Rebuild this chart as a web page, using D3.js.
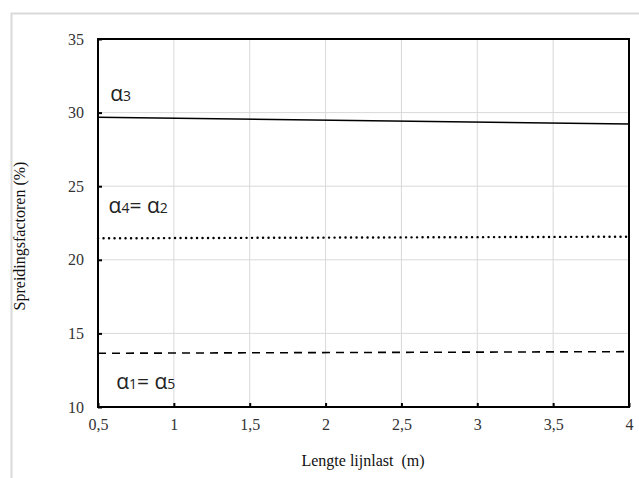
<!DOCTYPE html>
<html><head><meta charset="utf-8">
<script src="https://cdn.jsdelivr.net/npm/d3@7"></script>
<style>body{margin:0;background:#fff}svg{display:block}
.serif{font-family:"Liberation Serif","Times New Roman",serif}
.sans{font-family:"Open Sans","Noto Sans",sans-serif}</style>
</head><body>
<svg id="c" width="639" height="478"></svg>
<script>
const xValues = [0.5, 4];
const alpha3 = [29.68, 29.23];
const alpha4_2 = [21.46, 21.57];
const alpha1_5 = [13.65, 13.76];
const xTicks = [0.5, 1, 1.5, 2, 2.5, 3, 3.5, 4];
const xTickLabels = ["0,5", "1", "1,5", "2", "2,5", "3", "3,5", "4"];
const yTicks = [10, 15, 20, 25, 30, 35];
const labels = [
  {base: "α", sub: "3", rest: "", sub2: "", x: 0.58, y: 30.8},
  {base: "α", sub: "4", rest: "= α", sub2: "2", x: 0.57, y: 23.2},
  {base: "α", sub: "1", rest: "= α", sub2: "5", x: 0.62, y: 11.25}
];

const svg = d3.select("#c");
const m = {l: 98, r: 629, t: 39, b: 407};
const x = d3.scaleLinear().domain([0.5, 4]).range([m.l, m.r]);
const y = d3.scaleLinear().domain([10, 35]).range([m.b, m.t]);

// outer frame
svg.append("rect").attr("x", 11.5).attr("y", 13.5).attr("width", 640).attr("height", 480)
  .attr("fill", "none").attr("stroke", "#d9d9d9").attr("stroke-width", 2);

// grid
const grid = svg.append("g");
grid.selectAll(".gx").data(xTicks.slice(1, -1)).join("line")
  .attr("x1", d => x(d)).attr("x2", d => x(d)).attr("y1", m.t).attr("y2", m.b)
  .attr("stroke", "#d9d9d9").attr("stroke-width", 1);
grid.selectAll(".gy").data(yTicks.slice(1, -1)).join("line")
  .attr("x1", m.l).attr("x2", m.r).attr("y1", d => y(d)).attr("y2", d => y(d))
  .attr("stroke", "#d9d9d9").attr("stroke-width", 1);

// series
const line = d3.line().x((d, i) => x(xValues[i])).y(d => y(d));
svg.append("path").datum(alpha3).attr("d", line).attr("fill", "none")
  .attr("stroke", "#000").attr("stroke-width", 1.5);
svg.append("path").datum(alpha4_2).attr("d", line).attr("fill", "none")
  .attr("stroke", "#000").attr("stroke-width", 2.4).attr("stroke-dasharray", "0.1 5.4").attr("stroke-linecap", "round");
svg.append("path").datum(alpha1_5).attr("d", line).attr("fill", "none")
  .attr("stroke", "#000").attr("stroke-width", 1.6).attr("stroke-dasharray", "8 6");

// axes
const xAxis = d3.axisBottom(x).tickValues(xTicks).tickFormat((d, i) => xTickLabels[i]).tickSize(-4).tickPadding(12);
const gx = svg.append("g").attr("transform", `translate(0,${m.b})`).call(xAxis);
gx.select(".domain").remove();
gx.attr("font-family", null).attr("font-size", null);
gx.selectAll("line").attr("stroke", "#000").attr("stroke-width", 2);
gx.selectAll("text").attr("class", "serif").style("font-size", "16px").attr("fill", "#333");

const yAxis = d3.axisLeft(y).tickValues(yTicks).tickSize(-4).tickPadding(14);
const gy = svg.append("g").attr("transform", `translate(${m.l},0)`).call(yAxis);
gy.select(".domain").remove();
gy.attr("font-family", null).attr("font-size", null);
gy.selectAll("line").attr("stroke", "#000").attr("stroke-width", 2);
gy.selectAll("text").attr("class", "serif").style("font-size", "16px").attr("fill", "#333");

// plot frame
svg.append("rect").attr("x", m.l).attr("y", m.t).attr("width", m.r - m.l).attr("height", m.b - m.t)
  .attr("fill", "none").attr("stroke", "#000").attr("stroke-width", 2);

// axis titles
svg.append("text").attr("class", "serif").attr("x", 363).attr("y", 466).attr("text-anchor", "middle")
  .style("font-size", "16px").attr("fill", "#111").style("white-space", "pre")
  .text("Lengte lijnlast  (m)");
svg.append("text").attr("class", "serif").attr("transform", "translate(25,236) rotate(-90)").attr("text-anchor", "middle")
  .style("font-size", "16px").attr("fill", "#111")
  .text("Spreidingsfactoren (%)");

// labels
labels.forEach(l => {
  const t = svg.append("text").attr("class", "sans").attr("x", x(l.x)).attr("y", y(l.y))
    .style("font-size", "21px").attr("fill", "#222");
  t.append("tspan").text(l.base);
  t.append("tspan").style("font-size", "14px").text(l.sub);
  if (l.rest) {
    t.append("tspan").style("font-size", "21px").text(l.rest);
    t.append("tspan").style("font-size", "14px").text(l.sub2);
  }
});
</script>
</body></html>
